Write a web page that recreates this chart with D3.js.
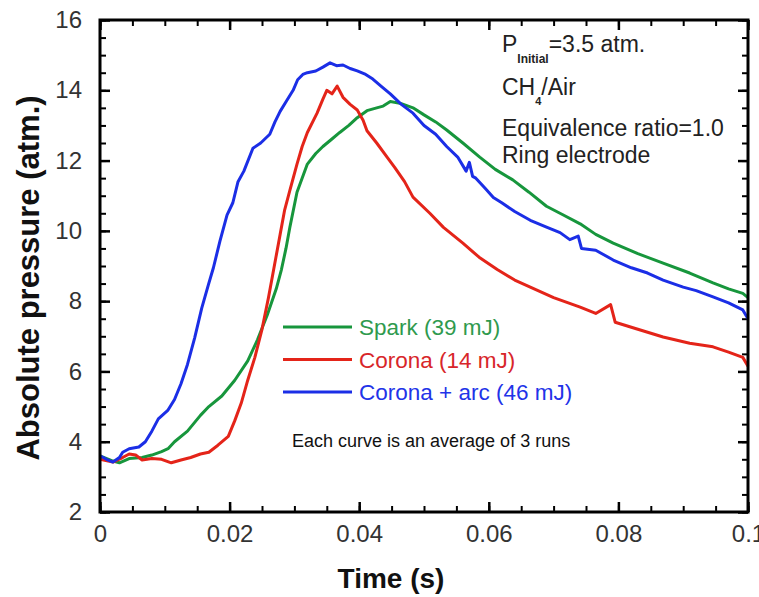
<!DOCTYPE html>
<html>
<head>
<meta charset="utf-8">
<script src="https://cdn.jsdelivr.net/npm/d3@7"></script>
<style>
  body { margin: 0; background: #fff; }
  text { font-family: "Liberation Sans", Arial, sans-serif; }
</style>
</head>
<body>
<div id="chart"></div>
<script>
// time (s), pressure (atm.)
var sparkT = [0, 0.002, 0.003, 0.0045, 0.0065, 0.008, 0.0095, 0.0105, 0.0115, 0.0135, 0.0155, 0.0168, 0.0188, 0.0208, 0.0228, 0.0243, 0.0258, 0.0272, 0.028, 0.0287, 0.0293, 0.0304, 0.032, 0.0333, 0.0344, 0.0357, 0.037, 0.0384, 0.0397, 0.0412, 0.0427, 0.0437, 0.0448, 0.0465, 0.0483, 0.05, 0.0518, 0.0535, 0.056, 0.0586, 0.061, 0.0637, 0.0662, 0.0689, 0.0715, 0.0741, 0.0765, 0.0792, 0.083, 0.0869, 0.091, 0.0946, 0.097, 0.0992, 0.1];
var sparkP = [3.6, 3.45, 3.4, 3.52, 3.55, 3.62, 3.72, 3.8, 4.0, 4.3, 4.75, 5.0, 5.3, 5.75, 6.3, 6.9, 7.6, 8.35, 8.9, 9.5, 10.1, 11.1, 11.9, 12.2, 12.4, 12.6, 12.8, 13.0, 13.22, 13.42, 13.5, 13.55, 13.68, 13.62, 13.5, 13.3, 13.1, 12.87, 12.5, 12.1, 11.75, 11.45, 11.1, 10.7, 10.45, 10.2, 9.9, 9.65, 9.35, 9.08, 8.8, 8.52, 8.35, 8.22, 8.1];

var coronaT = [0, 0.002, 0.0035, 0.0045, 0.0055, 0.0065, 0.008, 0.0095, 0.011, 0.0125, 0.014, 0.0155, 0.0168, 0.0182, 0.0198, 0.0208, 0.0218, 0.0228, 0.0239, 0.025, 0.026, 0.0268, 0.0278, 0.0285, 0.0293, 0.0304, 0.0312, 0.032, 0.0335, 0.0344, 0.035, 0.0358, 0.0366, 0.0375, 0.0386, 0.0397, 0.0406, 0.0412, 0.0427, 0.0443, 0.0455, 0.047, 0.0483, 0.0509, 0.053, 0.056, 0.0585, 0.0613, 0.064, 0.0664, 0.07, 0.0741, 0.0765, 0.0788, 0.0795, 0.083, 0.0869, 0.091, 0.0946, 0.097, 0.0992, 0.1];
var coronaP = [3.5, 3.42, 3.55, 3.65, 3.62, 3.48, 3.52, 3.5, 3.4, 3.48, 3.55, 3.65, 3.7, 3.9, 4.15, 4.6, 5.1, 5.75, 6.4, 7.2, 8.1, 8.9, 9.9, 10.6, 11.15, 11.9, 12.4, 12.8, 13.35, 13.75, 14.0, 13.9, 14.12, 13.8, 13.6, 13.44, 13.15, 12.85, 12.5, 12.1, 11.8, 11.4, 10.96, 10.5, 10.1, 9.65, 9.25, 8.9, 8.6, 8.4, 8.1, 7.83, 7.65, 7.9, 7.4, 7.2, 6.98, 6.8, 6.7, 6.55, 6.4, 6.15];

var arcT = [0, 0.001, 0.002, 0.003, 0.0035, 0.0045, 0.006, 0.007, 0.008, 0.009, 0.0105, 0.0115, 0.0125, 0.0135, 0.0146, 0.0157, 0.0167, 0.0175, 0.0185, 0.0196, 0.0205, 0.0213, 0.0222, 0.0236, 0.0248, 0.0262, 0.027, 0.0278, 0.0288, 0.0298, 0.0305, 0.0313, 0.032, 0.0333, 0.0344, 0.0355, 0.0365, 0.0375, 0.0386, 0.0397, 0.041, 0.0421, 0.0435, 0.0448, 0.0465, 0.0483, 0.05, 0.0518, 0.0535, 0.0552, 0.0565, 0.057, 0.0575, 0.058, 0.0595, 0.0607, 0.062, 0.064, 0.0664, 0.069, 0.071, 0.0725, 0.0738, 0.0743, 0.0765, 0.0792, 0.082, 0.0845, 0.0869, 0.09, 0.092, 0.0946, 0.097, 0.0992, 0.1];
var arcP = [3.6, 3.5, 3.42, 3.55, 3.7, 3.8, 3.85, 4.0, 4.3, 4.65, 4.9, 5.2, 5.65, 6.2, 6.95, 7.8, 8.45, 8.95, 9.7, 10.45, 10.8, 11.4, 11.7, 12.35, 12.5, 12.75, 13.1, 13.4, 13.7, 14.0, 14.3, 14.45, 14.5, 14.55, 14.66, 14.78, 14.7, 14.72, 14.62, 14.55, 14.45, 14.32, 14.1, 13.9, 13.6, 13.35, 13.0, 12.75, 12.4, 12.1, 11.7, 11.95, 11.55, 11.5, 11.2, 10.95, 10.8, 10.55, 10.3, 10.1, 9.95, 9.75, 9.85, 9.5, 9.45, 9.17, 8.95, 8.8, 8.6, 8.4, 8.3, 8.12, 7.95, 7.75, 7.5];

var seriesNames = ["Spark (39 mJ)", "Corona (14 mJ)", "Corona + arc (46 mJ)"];
var lineColors = ["#17963c", "#e42419", "#1b2ee6"];
var textColors = ["#2f9a4e", "#d8262a", "#2233e8"];

var xTicks = [0, 0.02, 0.04, 0.06, 0.08, 0.1];
var yTicks = [2, 4, 6, 8, 10, 12, 14, 16];

var width = 759, height = 597;
var margin = {top: 20, right: 11, bottom: 85, left: 100};
var w = width - margin.left - margin.right,
    h = height - margin.top - margin.bottom;

var svg = d3.select("#chart").append("svg")
  .attr("width", width)
  .attr("height", height);

var g = svg.append("g")
  .attr("transform", "translate(" + margin.left + "," + margin.top + ")");

var x = d3.scaleLinear().domain([0, 0.1]).range([0, w]);
var y = d3.scaleLinear().domain([2, 16]).range([h, 0]);

var minorX = d3.range(0, 0.1001, 0.005);
var minorY = d3.range(2, 16.01, 0.5);

function fmtX(d) { return d === 0 ? "0" : String(+d.toFixed(2)); }

// minor ticks, all four sides, pointing inward
function minorAxis(axis, scale, vals, tr) {
  g.append("g").attr("transform", tr)
    .call(axis(scale).tickValues(vals).tickSize(-6).tickFormat(""))
    .call(s => s.select(".domain").remove())
    .selectAll("line").attr("stroke", "#000").attr("stroke-width", 2);
}
minorAxis(d3.axisBottom, x, minorX, "translate(0," + h + ")");
minorAxis(d3.axisTop, x, minorX, "translate(0,0)");
minorAxis(d3.axisLeft, y, minorY, "translate(0,0)");
minorAxis(d3.axisRight, y, minorY, "translate(" + w + ",0)");

// major ticks + labels
function majorAxis(ax, tr) {
  g.append("g").attr("transform", tr).call(ax)
    .call(s => s.select(".domain").remove())
    .selectAll("line").attr("stroke", "#000").attr("stroke-width", 2.5);
}
majorAxis(d3.axisBottom(x).tickValues(xTicks).tickSize(-10).tickPadding(13).tickFormat(fmtX), "translate(0," + h + ")");
majorAxis(d3.axisLeft(y).tickValues(yTicks).tickSize(-10).tickPadding(18).tickFormat(d3.format("d")), "translate(0,0)");
majorAxis(d3.axisTop(x).tickValues(xTicks).tickSize(-10).tickFormat(""), "translate(0,0)");
majorAxis(d3.axisRight(y).tickValues(yTicks).tickSize(-10).tickFormat(""), "translate(" + w + ",0)");

g.selectAll(".tick text")
  .attr("font-family", "Liberation Sans, Arial, sans-serif")
  .attr("font-size", 24)
  .attr("fill", "#333");

// curves
var line = d3.line().x(d => x(d[0])).y(d => y(d[1]));
var data = [
  d3.zip(sparkT, sparkP),
  d3.zip(coronaT, coronaP),
  d3.zip(arcT, arcP)
];
g.selectAll(".curve")
  .data(data)
  .join("path")
  .attr("class", "curve")
  .attr("fill", "none")
  .attr("stroke", (d, i) => lineColors[i])
  .attr("stroke-width", 3)
  .attr("stroke-linejoin", "round")
  .attr("d", line);

// frame
g.append("rect")
  .attr("width", w).attr("height", h)
  .attr("fill", "none").attr("stroke", "#000").attr("stroke-width", 3);

// legend
var leg = svg.append("g");
seriesNames.forEach(function(name, i) {
  var yy = 327 + i * 32.5;
  leg.append("line")
    .attr("x1", 283).attr("x2", 352).attr("y1", yy).attr("y2", yy)
    .attr("stroke", lineColors[i]).attr("stroke-width", 3);
  leg.append("text")
    .attr("x", 359).attr("y", yy + 8)
    .attr("font-size", 22.5)
    .attr("fill", textColors[i])
    .text(name);
});
leg.append("text")
  .attr("x", 292).attr("y", 447)
  .attr("font-size", 18)
  .attr("fill", "#111")
  .text("Each curve is an average of 3 runs");

// conditions
var note = svg.append("g").attr("fill", "#222").attr("font-size", 23);
var t1 = note.append("text").attr("x", 502).attr("y", 52);
t1.append("tspan").text("P");
t1.append("tspan").attr("font-size", 12).attr("font-weight", "bold").attr("dy", 11).text("Initial");
t1.append("tspan").attr("dy", -11).text("=3.5 atm.");
var t2 = note.append("text").attr("x", 502).attr("y", 95);
t2.append("tspan").text("CH");
t2.append("tspan").attr("font-size", 11).attr("font-weight", "bold").attr("dy", 10).text("4");
t2.append("tspan").attr("dy", -10).text("/Air");
note.append("text").attr("x", 502).attr("y", 136).text("Equivalence ratio=1.0");
note.append("text").attr("x", 502).attr("y", 163).text("Ring electrode");

// axis titles
svg.append("text")
  .attr("x", 391).attr("y", 588)
  .attr("text-anchor", "middle")
  .attr("font-size", 28).attr("font-weight", "bold")
  .attr("fill", "#111")
  .text("Time (s)");
svg.append("text")
  .attr("transform", "translate(39,278) rotate(-90)")
  .attr("text-anchor", "middle")
  .attr("font-size", 31).attr("font-weight", "bold")
  .attr("fill", "#111")
  .text("Absolute pressure (atm.)");
</script>
</body>
</html>
